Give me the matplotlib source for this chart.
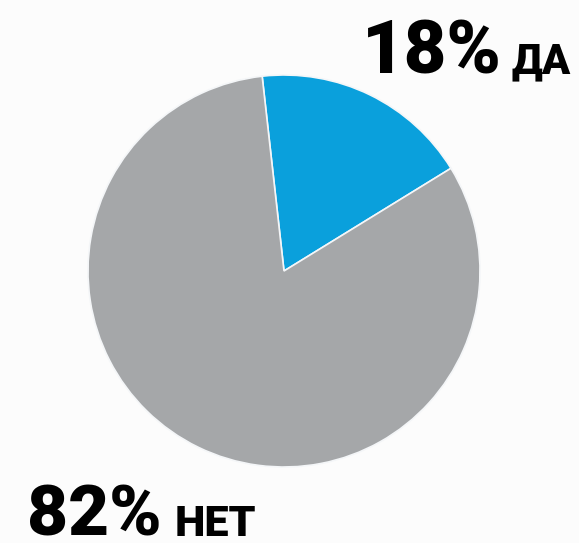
import matplotlib.pyplot as plt

labels = ["ДА", "НЕТ"]
shares = [18, 82]
colors = ["#0aa0dc", "#a5a7a9"]

fig = plt.figure(figsize=(5.79, 5.43), dpi=100)
fig.patch.set_facecolor("#fcfcfc")

ax = fig.add_axes([88 / 579, 76 / 543, 392 / 579, 392 / 543])
ax.pie(shares, colors=colors, startangle=96.4, counterclock=False,
       wedgeprops={"edgecolor": "#f4f6f8", "linewidth": 1.2})
ax.set_xlim(-1, 1)
ax.set_ylim(-1, 1)
ax.set_aspect("equal")
ax.axis("off")

font = ["Roboto", "DejaVu Sans"]
top_base = (543 - 73) / 543
bot_base = (543 - 536) / 543
fig.text(362 / 579, top_base, f"{shares[0]}%", fontsize=53, fontweight="black",
         family=font, va="baseline", ha="left")
fig.text(511 / 579, top_base, labels[0], fontsize=30, fontweight="black",
         family=font, va="baseline", ha="left")
fig.text(27 / 579, bot_base, f"{shares[1]}%", fontsize=51, fontweight="black",
         family=font, va="baseline", ha="left")
fig.text(175 / 579, bot_base, labels[1], fontsize=31, fontweight="black",
         family=font, va="baseline", ha="left")

fig.savefig("out.png", dpi=100, facecolor=fig.get_facecolor())
